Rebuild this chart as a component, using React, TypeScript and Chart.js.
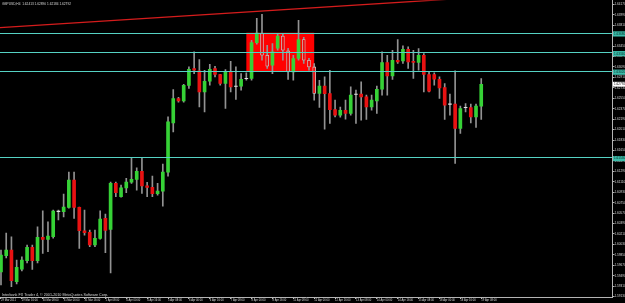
import React, { useEffect, useRef } from "react";
import { Chart, registerables } from "chart.js";

Chart.register(...registerables);

const symbolTitle = "GBPUSD,H4";
const copyrightText = "Interbank FX Trader 4, \u00a9 2001-2010 MetaQuotes Software Corp.";

// one label every 4 bars (H4 bars)
const timeLabels = [
  "29 Mar 2011", "29 Mar 16:00", "30 Mar 08:00", "31 Mar 00:00", "31 Mar 16:00",
  "1 Apr 08:00", "4 Apr 00:00", "4 Apr 16:00", "5 Apr 08:00", "6 Apr 00:00",
  "6 Apr 16:00", "7 Apr 08:00", "8 Apr 00:00", "8 Apr 16:00", "11 Apr 08:00",
  "12 Apr 00:00", "12 Apr 16:00", "13 Apr 08:00", "14 Apr 00:00", "14 Apr 16:00",
  "15 Apr 08:00", "18 Apr 00:00", "18 Apr 16:00", "19 Apr 08:00",
];
const labelStep = 4;

const opens = [
  1.59554, 1.59835, 1.59933, 1.59387, 1.59605, 1.59748, 1.59979, 1.59748, 1.60152, 1.60117,
  1.60162, 1.60599, 1.60593, 1.60668, 1.61139, 1.60668, 1.60265, 1.60238, 1.60019, 1.60134,
  1.60479, 1.60289, 1.61082, 1.60851, 1.61006, 1.61104, 1.61151, 1.61288, 1.61040, 1.61013,
  1.60903, 1.60949, 1.61276, 1.62126, 1.62546, 1.62504, 1.62770, 1.63063, 1.63021, 1.62659,
  1.62844, 1.63063, 1.62959, 1.62804, 1.63004, 1.62758, 1.62758, 1.62890, 1.62890, 1.63510,
  1.63676, 1.63292, 1.63119, 1.63412, 1.63624, 1.63366, 1.63004, 1.63235, 1.63562, 1.63206,
  1.63090, 1.62632, 1.62758, 1.62629, 1.62356, 1.62258, 1.62344, 1.62287, 1.62620, 1.62620,
  1.62573, 1.62401, 1.62504, 1.62706, 1.63166, 1.62935, 1.63206, 1.63193, 1.63395, 1.63188,
  1.63166, 1.63292, 1.62959, 1.62959, 1.62878, 1.62735, 1.62448, 1.62448, 1.62029, 1.62391,
  1.62391, 1.62229, 1.62413,
];
const highs = [
  1.59933, 1.60226, 1.60162, 1.59760, 1.59817, 1.60019, 1.60019, 1.60334, 1.60610, 1.60420,
  1.60622, 1.60622, 1.60897, 1.61276, 1.61276, 1.60673, 1.60622, 1.60277, 1.60277, 1.60610,
  1.60553, 1.61104, 1.61104, 1.61052, 1.61168, 1.61530, 1.61350, 1.61530, 1.61099, 1.61207,
  1.61082, 1.61414, 1.62229, 1.62701, 1.62568, 1.62792, 1.63090, 1.63349, 1.63218, 1.63033,
  1.63137, 1.63102, 1.62964, 1.63045, 1.63188, 1.63090, 1.62976, 1.62987, 1.63550, 1.63929,
  1.63998, 1.63464, 1.63493, 1.63665, 1.63665, 1.63412, 1.63292, 1.63895, 1.63602, 1.63240,
  1.63149, 1.62861, 1.62918, 1.63033, 1.62517, 1.62396, 1.62517, 1.62746, 1.62689, 1.62832,
  1.62603, 1.62603, 1.62758, 1.63349, 1.63292, 1.63378, 1.63562, 1.63452, 1.63435, 1.63378,
  1.63407, 1.63321, 1.63004, 1.62987, 1.62918, 1.62804, 1.62620, 1.63021, 1.62413, 1.62460,
  1.62448, 1.62448, 1.62890,
];
const lows = [
  1.59330, 1.59795, 1.59301, 1.59347, 1.59571, 1.59709, 1.59600, 1.59709, 1.59876, 1.59903,
  1.60139, 1.60450, 1.60506, 1.60656, 1.60479, 1.59962, 1.60191, 1.59990, 1.59990, 1.60122,
  1.59886, 1.59537, 1.60851, 1.60846, 1.60920, 1.61082, 1.60966, 1.60909, 1.60851, 1.60851,
  1.60880, 1.60691, 1.61207, 1.61971, 1.62482, 1.62482, 1.62718, 1.62976, 1.62401, 1.62315,
  1.62775, 1.62918, 1.62775, 1.62374, 1.62659, 1.62529, 1.62689, 1.62861, 1.62861, 1.63481,
  1.63206, 1.63063, 1.62976, 1.63378, 1.63206, 1.62873, 1.62861, 1.63206, 1.63149, 1.63033,
  1.62517, 1.62391, 1.62017, 1.62115, 1.62229, 1.62224, 1.62189, 1.62258, 1.62115, 1.62172,
  1.62184, 1.62344, 1.62287, 1.62603, 1.62603, 1.62873, 1.63149, 1.63149, 1.63063, 1.62890,
  1.63033, 1.62659, 1.62659, 1.62775, 1.62546, 1.62184, 1.62258, 1.61426, 1.61943, 1.62315,
  1.62126, 1.62046, 1.62184,
];
const closes = [
  1.59847, 1.59933, 1.59404, 1.59635, 1.59760, 1.59979, 1.59748, 1.60152, 1.60117, 1.60174,
  1.60605, 1.60599, 1.60673, 1.61139, 1.60668, 1.60265, 1.60231, 1.60019, 1.60134, 1.60467,
  1.60272, 1.61082, 1.60920, 1.61006, 1.61104, 1.61151, 1.61288, 1.61040, 1.61013, 1.60903,
  1.60949, 1.61276, 1.62143, 1.62546, 1.62504, 1.62775, 1.63051, 1.63033, 1.62659, 1.62844,
  1.63051, 1.62959, 1.62804, 1.63004, 1.62746, 1.62758, 1.62878, 1.62890, 1.63510, 1.63676,
  1.63292, 1.63102, 1.63349, 1.63624, 1.63378, 1.63004, 1.63235, 1.63562, 1.63206, 1.63090,
  1.62632, 1.62758, 1.62629, 1.62353, 1.62258, 1.62344, 1.62287, 1.62603, 1.62620, 1.62573,
  1.62401, 1.62517, 1.62706, 1.63166, 1.62935, 1.63206, 1.63176, 1.63395, 1.63176, 1.63166,
  1.63292, 1.62959, 1.62672, 1.62878, 1.62728, 1.62430, 1.62448, 1.62029, 1.62374, 1.62391,
  1.62229, 1.62413, 1.62792,
];

const yTicks = [
  1.6417, 1.6399, 1.6381, 1.6363, 1.6345, 1.6327, 1.6309, 1.6291, 1.6273, 1.6255,
  1.6237, 1.6219, 1.6201, 1.6183, 1.6165, 1.6147, 1.6129, 1.6111, 1.6093, 1.6075,
  1.6057, 1.6039, 1.6021, 1.6003, 1.5985, 1.5967, 1.5949, 1.5931, 1.5913,
];

// horizontal levels, zone rectangle and trend line
const levels = [1.6368, 1.6334, 1.6302, 1.6153];
const zoneBars = [47, 60];
const zonePrices = [1.6302, 1.6368];
const trendBars = [0, 80];
const trendPrices = [1.63770, 1.64225];

const xRange = [-0.19, 117.05];
const yRange = [1.59123, 1.64239];

const GREEN = "#36d236";
const RED = "#e81212";
const WICK = "#929292";
const DOJI = "#e0e0e0";
const LEVEL = "#55d2c4";
const AXIS = "#b4b4b4";
const TEXT = "#d8d8d8";
const FONT = "'Liberation Sans', Arial, sans-serif";

const dojiHalf = 0.00004;

export default function App() {
  const ref = useRef<HTMLCanvasElement | null>(null);

  useEffect(() => {
    const canvas = ref.current;
    if (!canvas) return;

    const bodies = opens.map((o, i) => ({
      x: i,
      y: o === closes[i] ? [o - dojiHalf, o + dojiHalf] : [o, closes[i]],
    }));
    const wicks = lows.map((l, i) => ({ x: i, y: [l, highs[i]] }));

    const inZone = (i: number) => i >= zoneBars[0] && i <= zoneBars[1];

    const mtPlugin = {
      id: "mt",
      beforeDraw(chart: any) {
        const c = chart.ctx;
        c.save();
        c.fillStyle = "#000000";
        c.fillRect(0, 0, chart.width, chart.height);
        c.restore();
      },
      beforeDatasetsDraw(chart: any) {
        const c = chart.ctx;
        const xs = chart.scales.x;
        const ys = chart.scales.y;
        const a = chart.chartArea;
        c.save();
        c.beginPath();
        c.rect(a.left, a.top, a.right - a.left, a.bottom - a.top);
        c.clip();
        const x0 = xs.getPixelForValue(zoneBars[0]);
        const x1 = xs.getPixelForValue(zoneBars[1]);
        const y0 = ys.getPixelForValue(zonePrices[1]);
        const y1 = ys.getPixelForValue(zonePrices[0]);
        c.fillStyle = "#ff0000";
        c.fillRect(x0, y0, x1 - x0, y1 - y0);
        c.restore();
      },
      afterDatasetsDraw(chart: any) {
        const c = chart.ctx;
        const xs = chart.scales.x;
        const ys = chart.scales.y;
        const a = chart.chartArea;
        c.save();
        c.beginPath();
        c.rect(a.left, a.top, a.right - a.left, a.bottom - a.top);
        c.clip();
        c.strokeStyle = LEVEL;
        c.lineWidth = 1;
        levels.forEach((p) => {
          const y = Math.round(ys.getPixelForValue(p)) + 0.5;
          c.beginPath();
          c.moveTo(a.left, y);
          c.lineTo(a.right, y);
          c.stroke();
        });
        // trend line (ray)
        const px0 = xs.getPixelForValue(trendBars[0]);
        const py0 = ys.getPixelForValue(trendPrices[0]);
        const px1 = xs.getPixelForValue(trendBars[1]);
        const py1 = ys.getPixelForValue(trendPrices[1]);
        const slope = (py1 - py0) / (px1 - px0);
        c.strokeStyle = "#d41c1c";
        c.lineWidth = 1.3;
        c.beginPath();
        c.moveTo(a.left, py0 + slope * (a.left - px0));
        c.lineTo(a.right, py0 + slope * (a.right - px0));
        c.stroke();
        c.restore();
      },
      afterDraw(chart: any) {
        const c = chart.ctx;
        const ys = chart.scales.y;
        const a = chart.chartArea;
        c.save();
        // title
        c.fillStyle = TEXT;
        c.textBaseline = "middle";
        c.textAlign = "left";
        c.font = `3.2px ${FONT}`;
        const n = opens.length - 1;
        const title = `${symbolTitle}  ${opens[n].toFixed(5)} ${highs[n].toFixed(5)} ${lows[n].toFixed(5)} ${closes[n].toFixed(5)}`;
        c.fillText(title, 2, 4.5);
        // copyright
        c.font = `3.7px ${FONT}`;
        c.textBaseline = "alphabetic";
        c.fillText(copyrightText, 2, a.bottom - 1.2);
        // level labels on the price axis
        c.textBaseline = "middle";
        c.font = `3.1px ${FONT}`;
        levels.forEach((p) => {
          const y = ys.getPixelForValue(p) + 1.2;
          c.fillStyle = "#3cbcaa";
          c.fillRect(a.right + 1, y - 2.6, 12, 5.2);
          c.fillStyle = "#0a2a26";
          c.fillText(p.toFixed(5), a.right + 2, y);
        });
        const last = closes[n];
        const yl = ys.getPixelForValue(last);
        c.fillStyle = "#ffffff";
        c.fillRect(a.right + 1, yl - 2.4, 12, 4.8);
        c.fillStyle = "#000000";
        c.fillText(last.toFixed(5), a.right + 2, yl);
        c.restore();
      },
    };

    const chart = new Chart(canvas, {
      type: "bar",
      data: {
        datasets: [
          {
            label: "body",
            data: bodies as any,
            grouped: false,
            barThickness: 3,
            borderSkipped: false,
            backgroundColor: (ctx: any) => {
              const i = ctx.dataIndex;
              if (closes[i] > opens[i]) return GREEN;
              if (closes[i] < opens[i]) return RED;
              return DOJI;
            },
            borderWidth: (ctx: any) => {
              const i = ctx.dataIndex;
              return closes[i] < opens[i] && inZone(i) ? 0.8 : 0;
            },
            borderColor: "#c8c8c8",
          } as any,
          {
            label: "wick",
            data: wicks as any,
            grouped: false,
            barThickness: 1,
            backgroundColor: WICK,
            borderWidth: 0,
          } as any,
        ],
      },
      options: {
        animation: false,
        responsive: false,
        events: [],
        layout: { padding: 0 },
        plugins: { legend: { display: false }, tooltip: { enabled: false } },
        scales: {
          x: {
            type: "linear",
            position: "bottom",
            offset: false,
            min: xRange[0],
            max: xRange[1],
            afterBuildTicks: (s: any) => {
              s.ticks = timeLabels.map((_, i) => ({ value: i * labelStep }));
            },
            afterFit: (s: any) => {
              s.height = 6;
            },
            ticks: {
              autoSkip: false,
              maxRotation: 0,
              minRotation: 0,
              align: "start",
              padding: 0,
              color: TEXT,
              font: { family: FONT, size: 2.7, lineHeight: 1.2 },
              callback: (_v: any, i: number) => timeLabels[i] ?? "",
            },
            grid: { offset: false, drawOnChartArea: false, drawTicks: true, tickLength: 2, color: AXIS },
            border: { display: true, color: AXIS, width: 1 },
          },
          y: {
            type: "linear",
            position: "right",
            min: yRange[0],
            max: yRange[1],
            afterBuildTicks: (s: any) => {
              s.ticks = yTicks.map((v) => ({ value: v }));
            },
            afterFit: (s: any) => {
              s.width = 13;
            },
            ticks: {
              autoSkip: false,
              padding: 0,
              color: TEXT,
              font: { family: FONT, size: 3.1, lineHeight: 0.2 },
              callback: (v: any) => Number(v).toFixed(5),
            },
            grid: { drawOnChartArea: false, drawTicks: true, tickLength: 2.5, color: AXIS },
            border: { display: true, color: AXIS, width: 1 },
          },
        },
      } as any,
      plugins: [mtPlugin],
    });

    return () => chart.destroy();
  }, []);

  return (
    <div style={{ position: "fixed", left: 0, top: 0, width: 625, height: 303, background: "#000" }}>
      <canvas ref={ref} width={625} height={303} style={{ display: "block", width: 625, height: 303 }} />
    </div>
  );
}
